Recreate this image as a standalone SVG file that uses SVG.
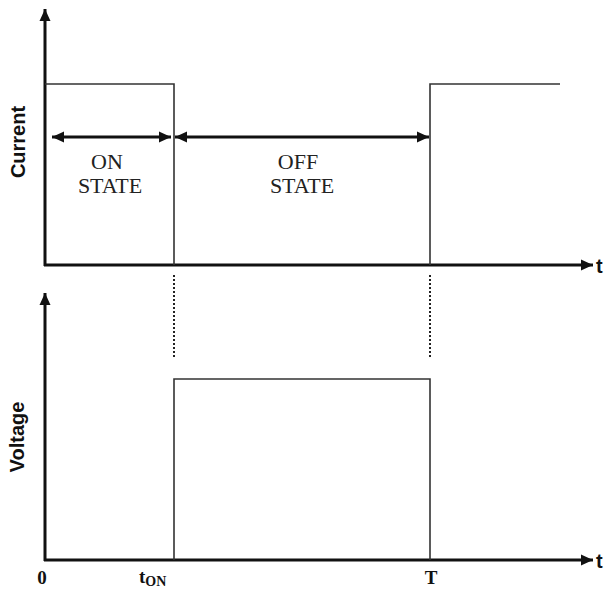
<svg xmlns="http://www.w3.org/2000/svg" width="605" height="590" viewBox="0 0 605 590">
<style>
.axis{stroke:#111;stroke-width:3;fill:none}
.wave{stroke:#333;stroke-width:1.6;fill:none}
.dim{stroke:#111;stroke-width:3;fill:none}
.dot{stroke:#222;stroke-width:2;stroke-dasharray:2,2;fill:none}
.serif{font-family:"Liberation Serif",serif;font-size:22px;fill:#222}
.lab{font-family:"Liberation Sans",Arial,sans-serif;font-weight:bold;font-size:20px;fill:#111}
.bold{font-family:"Liberation Serif",serif;font-weight:bold;font-size:19px;fill:#111}
</style>
<defs>
<marker id="ah" viewBox="0 0 12 11" refX="12" refY="5.5" markerWidth="4" markerHeight="3.7" orient="auto-start-reverse" markerUnits="strokeWidth">
<path d="M0,0 L12,5.5 L0,11 z" fill="#111"/>
</marker>
</defs>
<g id="connectors">
<path class="axis" d="M45,266 V9" marker-end="url(#ah)"/>
<path class="axis" d="M44,265 H593" marker-end="url(#ah)"/>
<path class="axis" d="M45,561 V293" marker-end="url(#ah)"/>
<path class="axis" d="M44,560 H593" marker-end="url(#ah)"/>
<path class="wave" d="M45,84 H174 V265"/>
<path class="wave" d="M430,265 V84 H560"/>
<path class="wave" d="M174,560 V379 H430 V560"/>
<path class="dot" d="M174,275 V359"/>
<path class="dot" d="M430,275 V359"/>
<path class="dim" d="M52,137 H171" marker-start="url(#ah)" marker-end="url(#ah)"/>
<path class="dim" d="M175,137 H429" marker-start="url(#ah)" marker-end="url(#ah)"/>
</g>
<g id="labels">
<text class="serif" x="107" y="169" text-anchor="middle">ON</text>
<text class="serif" x="110" y="193" text-anchor="middle">STATE</text>
<text class="serif" x="298" y="169" text-anchor="middle">OFF</text>
<text class="serif" x="302" y="193" text-anchor="middle">STATE</text>
<text class="lab" transform="translate(25,142) rotate(-90)" text-anchor="middle">Current</text>
<text class="lab" transform="translate(24,437) rotate(-90)" text-anchor="middle">Voltage</text>
<text class="lab" x="596" y="273">t</text>
<text class="lab" x="596" y="568">t</text>
<text class="bold" x="42" y="584" text-anchor="middle">0</text>
<text class="bold" x="139" y="583">t<tspan font-size="14" dy="3">ON</tspan></text>
<text class="bold" x="431" y="584" text-anchor="middle">T</text>
</g>
</svg>
